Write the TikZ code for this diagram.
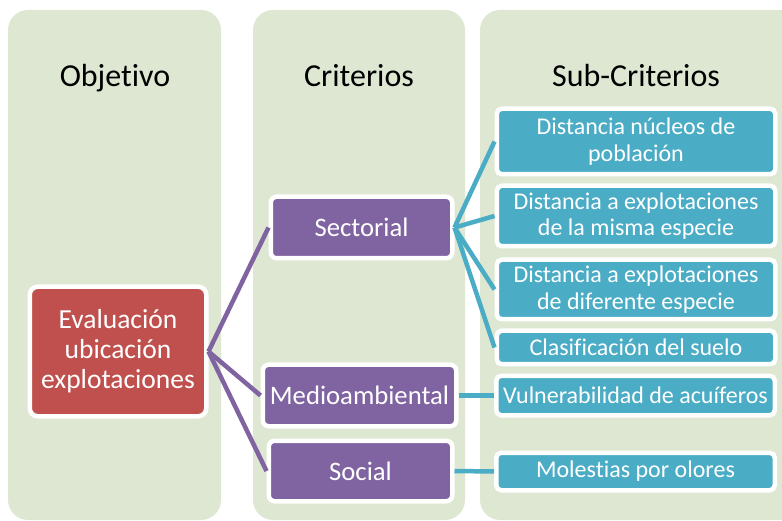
\documentclass[tikz,border=0pt]{standalone}
\usepackage{fontspec}
\setmainfont{Carlito}[Ligatures=NoCommon]
\usepackage{tikz}
\usetikzlibrary{positioning}
\definecolor{colgreen}{RGB}{222,231,210}
\definecolor{goalred}{RGB}{192,80,77}
\definecolor{critpurple}{RGB}{128,100,162}
\definecolor{subteal}{RGB}{75,172,198}
\tikzset{col/.style={fill=colgreen, rounded corners=20pt}, head/.style={anchor=base, font=\fontsize{32}{38}\selectfont}, goalbox/.style={fill=goalred, draw=white, line width=4.5pt, rounded corners=8pt, text=white, align=center, inner sep=2pt, font=\fontsize{27.5}{30}\selectfont}, critbox/.style={fill=critpurple, draw=white, line width=4.5pt, rounded corners=6pt, text=white, align=center, inner sep=2pt, font=\fontsize{26.7}{30}\selectfont}, subbox/.style={fill=subteal, draw=white, line width=4.5pt, rounded corners=5pt, text=white, align=center, inner sep=2pt, font=\fontsize{24}{26.5}\selectfont, minimum width=278.5pt}, pedge/.style={draw=critpurple, line width=4.5pt}, tedge/.style={draw=subteal, line width=4.5pt}}

\begin{document}
\begin{tikzpicture}[x=1pt,y=-1pt]
\useasboundingbox (0,0) rectangle (782,521);
\clip (0,0) rectangle (782,521);
\fill[col] (8,10) rectangle (221,520);
\fill[col] (253,10) rectangle (465,520);
\fill[col] (480,10) rectangle (800,520);
\node[head] (hobj) at (115,87) {Objetivo};
\node[head] (hcrit) at (359,87) {Criterios};
\node[head] (hsub) at (636,87) {Sub-Criterios};
\node[goalbox,minimum width=176.5pt,minimum height=129.5pt] (eval) at (118,351.5) {Evaluación\\ubicación\\explotaciones};
\node[critbox,minimum width=181.5pt,minimum height=61.5pt] (sect) at (361.5,227.5) {Sectorial};
\node[critbox,minimum width=193.5pt,minimum height=61.5pt] (medio) at (359.5,395.5) {Medioambiental};
\node[critbox,minimum width=183.5pt,minimum height=60.5pt] (social) at (360.5,471) {Social};
\node[subbox,minimum height=65.5pt] (nucleos) at (636,141.5) {Distancia núcleos de\\población};
\node[subbox,minimum height=60.5pt] (misma) at (636,216) {Distancia a explotaciones\\de la misma especie};
\node[subbox,minimum height=59.5pt] (difer) at (636,289.5) {Distancia a explotaciones\\de diferente especie};
\node[subbox,minimum height=33.5pt] (suelo) at (636,347.5) {Clasificación del suelo};
\node[subbox,minimum height=39.5pt] (acuif) at (635.5,395.5) {Vulnerabilidad de acuíferos};
\node[subbox,minimum height=37.5pt] (olores) at (635.5,471.5) {Molestias por olores};
\draw[pedge] (eval.east)--(sect.west); \draw[pedge] (eval.east)--(medio.west); \draw[pedge] (eval.east)--(social.west);
\draw[tedge] (sect.east)--(nucleos.west); \draw[tedge] (sect.east)--(misma.west); \draw[tedge] (sect.east)--(difer.west); \draw[tedge] (sect.east)--(suelo.west);
\draw[tedge] (medio.east)--(acuif.west); \draw[tedge] (social.east)--(olores.west);
\end{tikzpicture}
\end{document}
